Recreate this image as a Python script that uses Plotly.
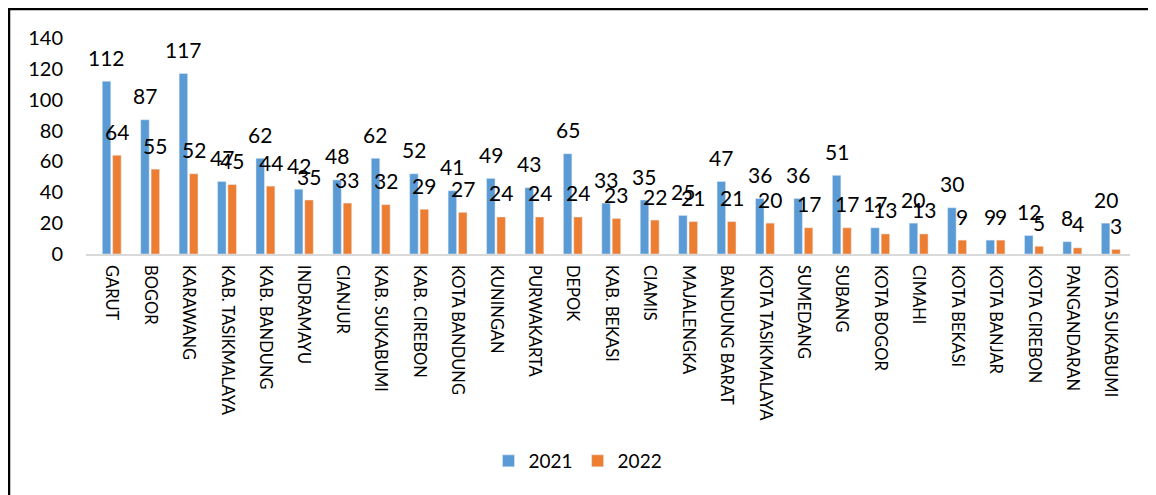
import plotly.graph_objects as go

categories = ["GARUT", "BOGOR", "KARAWANG", "KAB. TASIKMALAYA", "KAB. BANDUNG", "INDRAMAYU",
              "CIANJUR", "KAB. SUKABUMI", "KAB. CIREBON", "KOTA BANDUNG", "KUNINGAN",
              "PURWAKARTA", "DEPOK", "KAB. BEKASI", "CIAMIS", "MAJALENGKA", "BANDUNG BARAT",
              "KOTA TASIKMALAYA", "SUMEDANG", "SUBANG", "KOTA BOGOR", "CIMAHI", "KOTA BEKASI",
              "KOTA BANJAR", "KOTA CIREBON", "PANGANDARAN", "KOTA SUKABUMI"]
values_2021 = [112, 87, 117, 47, 62, 42, 48, 62, 52, 41, 49, 43, 65, 33, 35, 25, 47, 36, 36, 51,
               17, 20, 30, 9, 12, 8, 20]
values_2022 = [64, 55, 52, 45, 44, 35, 33, 32, 29, 27, 24, 24, 24, 23, 22, 21, 21, 20, 17, 17,
               13, 13, 9, 9, 5, 4, 3]
y_ticks = [0, 20, 40, 60, 80, 100, 120, 140]

BLUE = "#5B9BD5"
ORANGE = "#ED7D31"
FONT = "Lato"

# page offset (body margin) of the html page
OFF = 8
W, H = 1156 - OFF, 495 - OFF
# plot area in page pixels: x 86..1130, y 38..254
L, R, T, B = 86 - OFF, 1156 - 1130, 38 - OFF, 495 - 254
pw, ph = W - L - R, H - T - B

def px_x(p):
    return (p - OFF - L) / pw

def px_y(p):
    return (H - B - (p - OFF)) / ph

fig = go.Figure()
fig.add_trace(go.Bar(name="2021", x=categories, y=values_2021, marker_color=BLUE))
fig.add_trace(go.Bar(name="2022", x=categories, y=values_2022, marker_color=ORANGE))

slot = pw / len(categories) * (1 - 0.46) / 2
annotations = []
for series, shift in ((values_2021, -slot / 2), (values_2022, slot / 2)):
    for c, v in zip(categories, series):
        annotations.append(dict(x=c, y=v, xref="x", yref="y", text=str(v), showarrow=False,
                                xshift=shift, yshift=24, yanchor="middle",
                                font=dict(family=FONT, size=21, color="#000000")))

fig.update_layout(
    width=W, height=H,
    margin=dict(l=L, r=R, t=T, b=B),
    paper_bgcolor="white", plot_bgcolor="white",
    barmode="group", bargap=0.46, bargroupgap=0.18,
    font=dict(family=FONT, color="#000000"),
    annotations=annotations,
    showlegend=True,
    legend=dict(orientation="h", x=px_x(578), xanchor="center", y=px_y(461), yanchor="middle",
                font=dict(family=FONT, size=19, color="#000000"), itemwidth=30,
                traceorder="normal"),
    xaxis=dict(tickangle=90, tickfont=dict(family=FONT, size=16.5, color="#000000"),
               showline=True, linecolor="#D9D9D9", linewidth=1.5, ticks="",
               showgrid=False, ticklabelstandoff=6, automargin=False),
    yaxis=dict(range=[0, 140], tickvals=y_ticks, showgrid=False, zeroline=False,
               showline=False, ticks="", ticklabelstandoff=22, automargin=False,
               tickfont=dict(family=FONT, size=20, color="#000000")),
    shapes=[
        dict(type="line", xref="paper", yref="paper", x0=px_x(9), x1=px_x(9),
             y0=px_y(9), y1=px_y(500), line=dict(color="#000000", width=2.5)),
        dict(type="line", xref="paper", yref="paper", x0=px_x(8), x1=px_x(1160),
             y0=px_y(9), y1=px_y(9), line=dict(color="#000000", width=2.5)),
    ],
)

fig.write_html("out.html")
